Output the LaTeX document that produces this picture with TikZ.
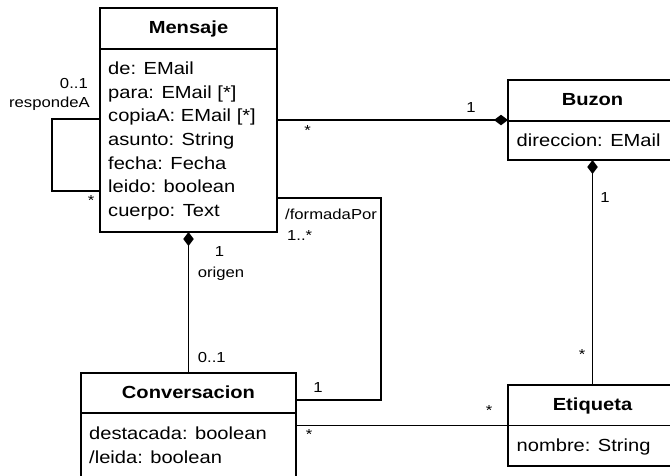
\documentclass[tikz,border=0pt]{standalone}
\usepackage{fontspec}
\setmainfont{Liberation Sans}[FakeStretch=1.15]
\usetikzlibrary{arrows.meta,calc}
\tikzset{
  umlbox/.style={draw, line width=1.3pt, inner sep=0pt, outer sep=0pt, anchor=north west},
  ttl/.style={font=\fontsize{17.5}{20}\selectfont\bfseries, anchor=base, inner sep=0pt},
  attr/.style={font=\fontsize{17.5}{20}\selectfont, anchor=base west, inner sep=0pt},
  lbl/.style={font=\fontsize{14.5}{16}\selectfont, inner sep=0pt},
  conn/.style={line width=1.3pt},
  comp/.style={conn, -{Diamond[length=14pt,width=10.5pt]}},
  compstart/.style={conn, {Diamond[length=14pt,width=10.5pt]}-},
}
\begin{document}
\begin{tikzpicture}[x=1pt,y=-1pt]
\useasboundingbox (0,0) rectangle (670,475);
\clip (0,0) rectangle (670,475);
\fill[white] (0,0) rectangle (670,475);

% Boxes
\node[umlbox, minimum width=177pt, minimum height=224pt] (mensaje) at (100,8) {};
\node[umlbox, minimum width=169pt, minimum height=80pt] (buzon) at (508,80) {};
\node[umlbox, minimum width=169pt, minimum height=81pt] (etiqueta) at (508,385) {};
\node[umlbox, minimum width=215pt, minimum height=120pt] (conversacion) at (81,373) {};

% Dividers
\draw[conn] ($(mensaje.north west)+(0,41)$) -- ($(mensaje.north east)+(0,41)$);
\draw[conn] ($(buzon.north west)+(0,41)$) -- ($(buzon.north east)+(0,41)$);
\draw[conn] ($(etiqueta.north west)+(0,40.5)$) -- ($(etiqueta.north east)+(0,40.5)$);
\draw[conn] ($(conversacion.north west)+(0,40)$) -- ($(conversacion.north east)+(0,40)$);

% Titles
\node[ttl] (tmensaje) at (188.5,33) {Mensaje};
\node[ttl] (tbuzon) at (592.5,105.7) {Buzon};
\node[ttl] (tetiqueta) at (592.5,410.7) {Etiqueta};
\node[ttl] (tconversacion) at (188.5,398) {Conversacion};

% Attributes
\node[attr] (m1) at (108,74.3) {de: EMail};
\node[attr] (m2) at (108,98.0) {para: EMail [*]};
\node[attr] (m3) at (108,121.7) {copiaA: EMail [*]};
\node[attr] (m4) at (108,145.4) {asunto: String};
\node[attr] (m5) at (108,169.1) {fecha: Fecha};
\node[attr] (m6) at (108,192.8) {leido: boolean};
\node[attr] (m7) at (108,216.5) {cuerpo: Text};
\node[attr] (b1) at (516.5,146) {direccion: EMail};
\node[attr] (e1) at (516.5,451) {nombre: String};
\node[attr] (c1) at (89,439) {destacada: boolean};
\node[attr] (c2) at (89,463.3) {/leida: boolean};

% Connectors
\draw[conn] ($(mensaje.north west)+(0,111)$) -- ++(-48,0) -- ++(0,72) -- ($(mensaje.north west)+(0,183)$);
\draw[comp] (mensaje.east) -- (buzon.west);
\draw[compstart] (buzon.south) -- (etiqueta.north);
\draw[compstart] (mensaje.south) -- (conversacion.north);
\draw[conn] ($(mensaje.north east)+(0,190)$) -- ++(104,0) |- ($(conversacion.north east)+(0,27)$);
\draw[conn] (etiqueta.west) -- (etiqueta.west -| conversacion.east);

% Labels
\node[lbl, anchor=base east] (l01a) at (88,88) {0..1};
\node[lbl, anchor=base east] (lresp) at (90,107.5) {respondeA};
\node[lbl, anchor=base] (lsa) at (91,205) {*};
\node[lbl, anchor=base] (l1b) at (471,112.7) {1};
\node[lbl, anchor=base] (lsb) at (307.7,135.7) {*};
\node[lbl, anchor=base] (l1e) at (605,202.7) {1};
\node[lbl, anchor=base] (lse) at (582,359) {*};
\node[lbl, anchor=base] (l1o) at (219.5,256.7) {1};
\node[lbl, anchor=base west] (lorig) at (197.7,277.3) {origen};
\node[lbl, anchor=base west] (l01o) at (197.7,362.7) {0..1};
\node[lbl, anchor=base west] (lform) at (285,219) {/formadaPor};
\node[lbl, anchor=base west] (l1s) at (287,240) {1..*};
\node[lbl, anchor=base] (l1c) at (318,392.7) {1};
\node[lbl, anchor=base] (lsc) at (309,439.7) {*};
\node[lbl, anchor=base] (lset) at (489,415.7) {*};
\end{tikzpicture}
\end{document}
